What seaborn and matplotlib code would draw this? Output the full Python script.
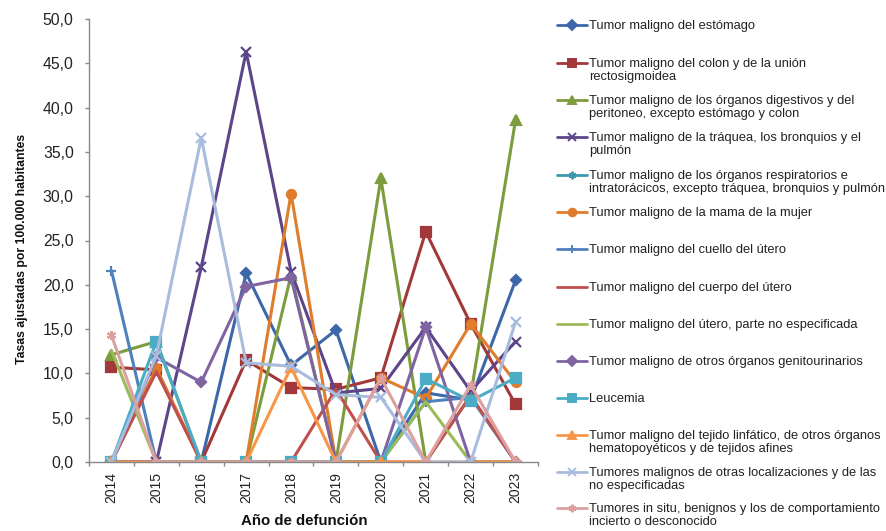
import matplotlib
matplotlib.use("Agg")
import matplotlib.pyplot as plt
import seaborn as sns
import pandas as pd
from matplotlib.lines import Line2D
from matplotlib.ticker import FixedLocator, FuncFormatter

years = [2014, 2015, 2016, 2017, 2018, 2019, 2020, 2021, 2022, 2023]

estomago      = [0.0, 0.0, 0.0, 21.3, 10.9, 14.9, 0.0, 7.8, 7.0, 20.5]
colon         = [10.7, 10.4, 0.0, 11.5, 8.4, 8.2, 9.5, 26.0, 15.6, 6.5]
digestivos    = [12.1, 13.6, 0.0, 0.0, 21.1, 0.0, 32.0, 0.0, 7.5, 38.6]
traquea       = [0.0, 0.0, 22.0, 46.3, 21.5, 7.8, 8.3, 15.2, 8.0, 13.6]
respiratorios = [0.0, 0.0, 0.0, 0.0, 0.0, 0.0, 0.0, 0.0, 0.0, 0.0]
mama          = [0.0, 10.6, 0.0, 0.0, 30.3, 0.0, 9.5, 7.2, 15.6, 9.0]
cuello        = [21.6, 0.0, 0.0, 0.0, 0.0, 0.0, 0.0, 6.8, 7.3, 0.0]
cuerpo        = [0.0, 10.2, 0.0, 0.0, 0.0, 8.2, 0.0, 0.0, 7.5, 0.0]
utero_ne      = [12.6, 0.0, 0.0, 0.0, 0.0, 0.0, 0.0, 6.8, 0.0, 0.0]
genitourin    = [0.0, 11.8, 9.0, 19.8, 20.8, 0.0, 0.0, 15.2, 0.0, 0.0]
leucemia      = [0.0, 13.6, 0.0, 0.0, 0.0, 0.0, 0.0, 9.4, 6.9, 9.5]
linfatico     = [0.0, 0.0, 0.0, 0.0, 10.7, 0.0, 0.0, 0.0, 0.0, 0.0]
otras         = [0.0, 12.0, 36.6, 11.2, 10.8, 7.6, 7.3, 0.0, 0.0, 15.8]
in_situ       = [14.3, 0.0, 0.0, 0.0, 0.0, 0.0, 9.5, 0.0, 8.7, 0.0]

labels = [
    "Tumor maligno del estómago",
    "Tumor maligno del colon y de la unión\nrectosigmoidea",
    "Tumor maligno de los órganos digestivos y del\nperitoneo, excepto estómago y colon",
    "Tumor maligno de la tráquea, los bronquios y el\npulmón",
    "Tumor maligno de los órganos respiratorios e\nintratorácicos, excepto tráquea, bronquios y pulmón",
    "Tumor maligno de la mama de la mujer",
    "Tumor maligno del cuello del útero",
    "Tumor maligno del cuerpo del útero",
    "Tumor maligno del útero, parte no especificada",
    "Tumor maligno de otros órganos genitourinarios",
    "Leucemia",
    "Tumor maligno del tejido linfático, de otros órganos\nhematopoyéticos y de tejidos afines",
    "Tumores malignos de otras localizaciones y de las\nno especificadas",
    "Tumores in situ, benignos y los de comportamiento\nincierto o desconocido",
]
series = [estomago, colon, digestivos, traquea, respiratorios, mama, cuello,
          cuerpo, utero_ne, genitourin, leucemia, linfatico, otras, in_situ]

colors = ["#3C67A8", "#A3383B", "#7C9C3D", "#5D4589", "#3A9AAE", "#E07D2C",
          "#4F81BD", "#C0504D", "#9BBB59", "#8064A2", "#4BACC6", "#F79646",
          "#A8BCDD", "#DBA09F"]
markers = ["D", "s", "^", "x", (6, 2, 0), "o", "+", None, None, "D", "s", "^",
           "x", (6, 2, 0)]
msizes = [5.5, 6.5, 6.5, 6.5, 6.5, 6.5, 7, 0, 0, 5.5, 6.5, 6.5, 6.5, 6.5]

sns.set_theme(style="white")
plt.rcParams["font.family"] = ["Liberation Sans", "DejaVu Sans"]

fig = plt.figure(figsize=(8.86, 5.31), dpi=100)
W, H = 886, 531
ax = fig.add_axes([89 / W, 1 - 462 / H, (538 - 89) / W, (462 - 19) / H])

for vals, lab, col, mk, ms in zip(series, labels, colors, markers, msizes):
    df = pd.DataFrame({"year": years, "val": vals})
    kw = dict(marker=mk, markersize=ms, markeredgecolor=col, markerfacecolor=col,
              markeredgewidth=1.6) if mk is not None else {}
    sns.lineplot(data=df, x="year", y="val", ax=ax, color=col, linewidth=2.2,
                 legend=False, **kw)

ax.set_xlim(2013.5, 2023.5)
ax.set_ylim(0, 50)
ax.set_xticks(years)
ax.set_xticklabels([str(y) for y in years], rotation=90, fontsize=10, color="#222222")
ax.xaxis.set_minor_locator(FixedLocator([2013.5 + i for i in range(11)]))
ax.tick_params(axis="x", which="major", length=0, pad=7)
ax.tick_params(axis="x", which="minor", length=3, width=1, color="#888888",
               direction="out", bottom=True)
ax.set_yticks([0, 5, 10, 15, 20, 25, 30, 35, 40, 45, 50])
ax.yaxis.set_major_formatter(FuncFormatter(lambda v, p: f"{v:.1f}".replace(".", ",")))
ax.tick_params(axis="y", which="major", length=3, width=1, color="#888888",
               direction="out", left=True, labelsize=11.3, labelcolor="#222222", pad=8)

for s in ["top", "right"]:
    ax.spines[s].set_visible(False)
for s in ["left", "bottom"]:
    ax.spines[s].set_color("#888888")
    ax.spines[s].set_linewidth(1)

ax.set_xlabel("Año de defunción", fontsize=10.8, fontweight="bold",
              color="#111111")
ax.xaxis.set_label_coords((304 - 89) / 449, -(514 - 462) / 443)
ax.xaxis.label.set_verticalalignment("top")
ax.set_ylabel("Tasas ajustadas por 100.000 habitantes", fontsize=8.8,
              fontweight="bold", color="#111111")
ax.yaxis.set_label_coords((28 - 89) / 449, (462 - 249) / 443)

# legend drawn manually so the handle aligns with the first text line
ys = [25, 63, 100, 137, 175, 212, 249, 287, 324, 361, 398, 435, 472, 508]
for yp, lab, col, mk, ms in zip(ys, labels, colors, markers, msizes):
    yf = 1 - yp / H
    ln = Line2D([557 / W, 587 / W], [yf, yf], transform=fig.transFigure,
                color=col, linewidth=2.0)
    fig.add_artist(ln)
    if mk is not None:
        mkln = Line2D([572 / W], [yf], transform=fig.transFigure, color=col,
                      marker=mk, markersize=ms * 0.85, markeredgecolor=col,
                      markerfacecolor=col, markeredgewidth=1.4, linestyle="none")
        fig.add_artist(mkln)
    fig.text(589 / W, yf + 5 / H, lab, fontsize=9.3, va="top", ha="left",
             color="#222222", linespacing=1.15)

fig.savefig("out.png", dpi=100)
